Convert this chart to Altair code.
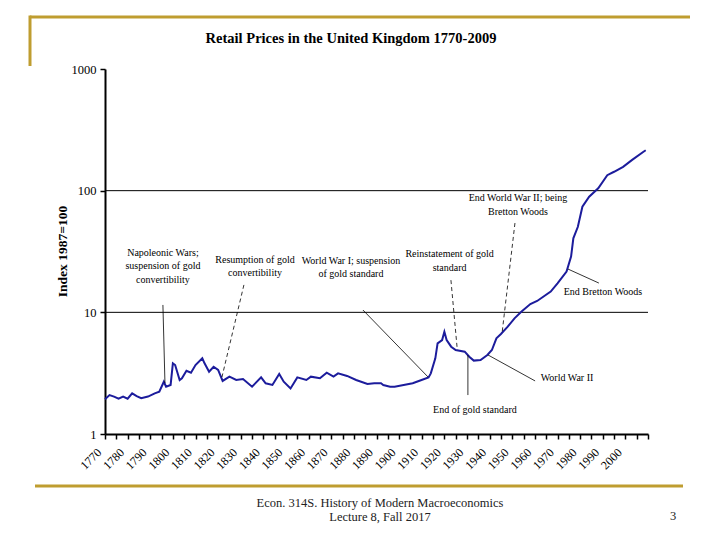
import altair as alt
import pandas as pd

# Retail price index for the United Kingdom, 1987 = 100
years = [1770, 1772, 1774, 1776, 1778, 1780, 1782, 1784, 1786, 1789,
         1792, 1794, 1796, 1797, 1799, 1800, 1801, 1803, 1804, 1806,
         1808, 1810, 1813, 1814, 1816, 1818, 1820, 1822, 1825, 1828,
         1831, 1835, 1839, 1841, 1844, 1847, 1849, 1852, 1855, 1859,
         1861, 1865, 1868, 1871, 1873, 1877, 1881, 1886, 1889, 1892,
         1893, 1896, 1898, 1902, 1906, 1909, 1913, 1914, 1916, 1917,
         1919, 1920, 1921, 1923, 1925, 1929, 1931, 1933, 1936, 1939,
         1941, 1943, 1945, 1948, 1951, 1954, 1958, 1961, 1967, 1970,
         1974, 1976, 1977, 1979, 1981, 1984, 1988, 1992, 1995, 1999,
         2003, 2008, 2009]
index_values = [1.93, 2.09, 2.03, 1.95, 2.03, 1.95, 2.16, 2.05, 1.97, 2.03,
                2.16, 2.23, 2.69, 2.45, 2.53, 3.81, 3.69, 2.78, 2.87, 3.31,
                3.19, 3.69, 4.19, 3.81, 3.25, 3.57, 3.36, 2.73, 2.96, 2.78,
                2.83, 2.45, 2.92, 2.61, 2.53, 3.11, 2.69, 2.37, 2.92, 2.78,
                2.96, 2.87, 3.19, 2.96, 3.15, 3.00, 2.78, 2.58, 2.61, 2.61,
                2.53, 2.45, 2.45, 2.53, 2.61, 2.74, 2.92, 3.15, 4.19, 5.56,
                5.92, 6.93, 5.92, 5.22, 4.90, 4.75, 4.32, 4.01, 4.06, 4.46,
                4.90, 6.12, 6.63, 7.62, 8.93, 10.1, 11.7, 12.4, 14.8, 17.3,
                21.6, 28.7, 40.6, 50.5, 73.8, 89.2, 104.5, 134, 143, 157,
                179, 209, 215]

# Event notes: text anchored at its top centre
note_text = ["Napoleonic Wars;\nsuspension of gold\nconvertibility",
             "Resumption of gold\nconvertibility",
             "World War I; suspension\nof gold standard",
             "Reinstatement of gold\nstandard",
             "End World War II; being\nBretton Woods",
             "End Bretton Woods",
             "World War II",
             "End of gold standard"]
note_year = [1795.6, 1836.3, 1878.7, 1922.3, 1952.5, 1990.1, 1974.2, 1933.5]
note_value = [33.8, 29.6, 29.2, 33.0, 95.1, 16.1, 3.19, 1.73]

# Leader lines from each note to the curve
lead_year = [1795.6, 1831.4, 1884.0, 1922.9, 1951.2, 1988.3, 1960.1, 1930.4]
lead_value = [11.5, 16.8, 10.45, 18.4, 54.2, 17.4, 2.73, 2.09]
lead_year2 = [1796.5, 1821.7, 1912.8, 1925.6, 1945.5, 1974.6, 1939.3, 1930.4]
lead_value2 = [2.62, 2.94, 2.94, 5.19, 6.76, 22.7, 4.46, 4.46]
lead_dashed = [False, True, False, True, True, False, False, False]

grid_levels = [10, 100]

x_ticks = list(range(1770, 2011, 5))
y_ticks = [1, 10, 100, 1000]

SERIF = "Liberation Serif"
GOLD = "#BF9D30"
W, H = 543, 365

x_scale = alt.Scale(domain=[1770, 2010], nice=False, zero=False)
y_scale = alt.Scale(type="log", domain=[1, 1000], nice=False)

series = pd.DataFrame({"year": years, "index": index_values})
notes = pd.DataFrame({"text": note_text, "year": note_year, "value": note_value})
leads = pd.DataFrame({"year": lead_year, "value": lead_value,
                      "year2": lead_year2, "value2": lead_value2,
                      "dashed": lead_dashed})
grid = pd.DataFrame({"level": grid_levels})
one = pd.DataFrame({"k": [0]})

# Ticks every five years, labels on each decade up to 2000
x_axis = alt.Axis(values=x_ticks, title=None,
                  labelExpr="datum.value % 10 === 0 && datum.value <= 2000 ? '' + datum.value : ''",
                  labelAngle=315, labelAlign="right", labelBaseline="middle",
                  labelPadding=11, labelOffset=-6,
                  labelFont=SERIF, labelFontSize=12, labelColor="black",
                  grid=False, domainColor="black", domainWidth=2,
                  tickColor="black", tickSize=5, tickWidth=1.5,
                  labelOverlap=False, labelBound=False, labelFlush=False)
y_axis = alt.Axis(values=y_ticks, format="d", labelFont=SERIF, labelFontSize=12.5,
                  labelColor="black", labelPadding=4, grid=False,
                  domainColor="black", domainWidth=2, tickColor="black",
                  tickSize=5, tickWidth=1.5, title="Index 1987=100",
                  titleFont=SERIF, titleFontSize=13.5, titleFontWeight="bold",
                  titleColor="black", titleX=-43, titleY=182,
                  titleAlign="center", titleBaseline="middle",
                  labelOverlap=False)

gridlines = alt.Chart(grid).mark_rule(color="black", strokeWidth=1).encode(
    y=alt.Y("level:Q", scale=y_scale, axis=y_axis))

line = alt.Chart(series).mark_line(color="#1c1c9c", strokeWidth=2).encode(
    x=alt.X("year:Q", scale=x_scale, axis=x_axis),
    y=alt.Y("index:Q", scale=y_scale, axis=y_axis),
)

lead_enc = dict(
    x=alt.X("year:Q", scale=x_scale, axis=x_axis),
    y=alt.Y("value:Q", scale=y_scale, axis=y_axis),
    x2="year2:Q",
    y2="value2:Q",
)
solid_leads = alt.Chart(leads).transform_filter("!datum.dashed").mark_rule(
    color="black", strokeWidth=0.8).encode(**lead_enc)
dashed_leads = alt.Chart(leads).transform_filter("datum.dashed").mark_rule(
    color="black", strokeWidth=0.8, strokeDash=[4, 3]).encode(**lead_enc)

note_marks = alt.Chart(notes).mark_text(
    font=SERIF, fontSize=10, align="center", baseline="top",
    lineBreak="\n", lineHeight=13.5, color="black").encode(
    x=alt.X("year:Q", scale=x_scale, axis=x_axis),
    y=alt.Y("value:Q", scale=y_scale, axis=y_axis),
    text="text:N",
)

# Slide frame and captions (pixel positions relative to the plot origin)
title = alt.Chart(one).mark_text(
    text="Retail Prices in the United Kingdom 1770-2009", font=SERIF,
    fontSize=14.5, fontWeight="bold", align="center", baseline="middle",
    color="black").encode(x=alt.value(246), y=alt.value(-30))

gold_top = alt.Chart(one).mark_rule(color=GOLD, strokeWidth=3).encode(
    x=alt.value(-75), x2=alt.value(585), y=alt.value(-52))
gold_side = alt.Chart(one).mark_rule(color=GOLD, strokeWidth=3).encode(
    x=alt.value(-75), y=alt.value(-53.5), y2=alt.value(-3))
gold_bottom = alt.Chart(one).mark_rule(color=GOLD, strokeWidth=3).encode(
    x=alt.value(-70), x2=alt.value(578), y=alt.value(417))

footer = alt.Chart(one).mark_text(
    text="Econ. 314S.  History of Modern Macroeconomics\nLecture 8, Fall 2017",
    lineBreak="\n", lineHeight=14, font=SERIF, fontSize=12.5, align="center",
    baseline="middle", color="#222222").encode(x=alt.value(275), y=alt.value(434))
page_no = alt.Chart(one).mark_text(
    text="3", font=SERIF, fontSize=12.5, align="center", baseline="middle",
    color="#222222").encode(x=alt.value(568), y=alt.value(447))

chart = alt.layer(
    gridlines, line, solid_leads, dashed_leads, note_marks,
    title, gold_top, gold_side, gold_bottom, footer, page_no,
).properties(
    width=W, height=H,
    background="white",
    padding={"left": 105, "top": 69, "right": 72, "bottom": 106},
    autosize=alt.AutoSizeParams(type="none"),
).configure_view(stroke=None).configure_axisX(labelOverlap=False)

chart.save("out.html", embed_options={"renderer": "svg", "actions": False})
